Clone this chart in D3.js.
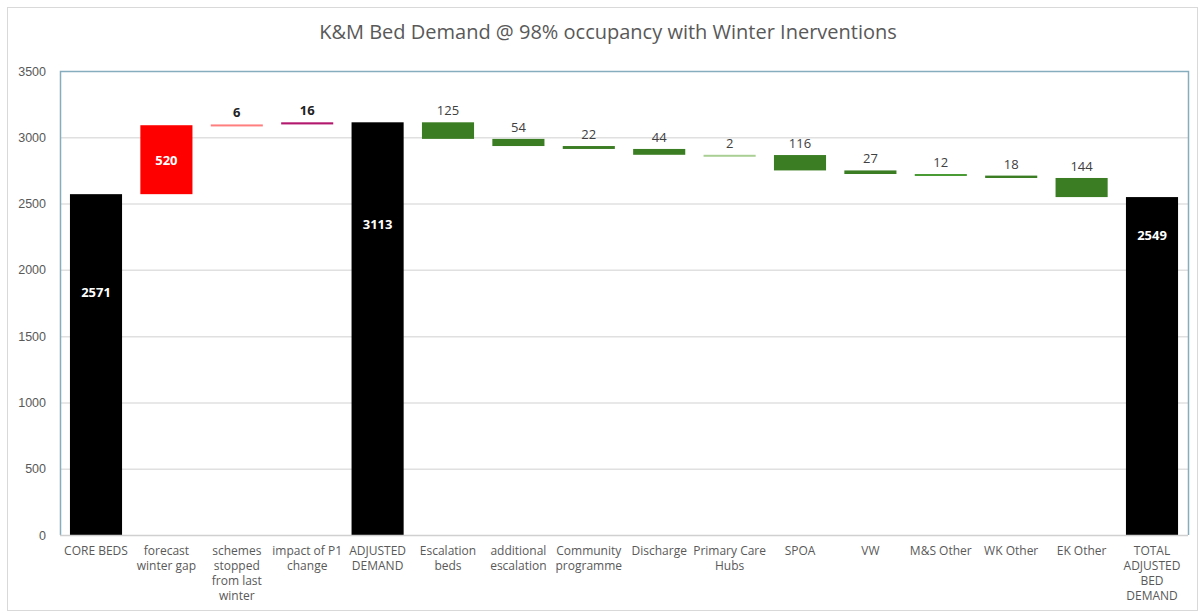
<!DOCTYPE html>
<html lang="en">
<head>
  <meta charset="UTF-8" />
  <title>K&amp;M Bed Demand</title>
  <script src="https://d3js.org/d3.v7.min.js"></script>
  <style>
    body {
      background-color: white;
      margin: 0;
      font-family: "Open Sans", sans-serif;
    }
    svg { display: block; }
    .tick text { fill: #595959; font-size: 12.5px; }
    .cat { fill: #595959; font-size: 12px; }
    .lbl { font-size: 13px; }
  </style>
</head>
<body>
  <svg></svg>

  <script>
    // categories (lines of each axis label)
    const categories = [
      ["CORE BEDS"], ["forecast", "winter gap"], ["schemes", "stopped", "from last", "winter"],
      ["impact of P1", "change"], ["ADJUSTED", "DEMAND"], ["Escalation", "beds"],
      ["additional", "escalation"], ["Community", "programme"], ["Discharge"],
      ["Primary Care", "Hubs"], ["SPOA"], ["VW"], ["M&S Other"], ["WK Other"],
      ["EK Other"], ["TOTAL", "ADJUSTED", "BED", "DEMAND"]
    ];
    // kind: total, up (increase), down (decrease)
    const kinds = ["total", "up", "up", "up", "total", "down", "down", "down", "down",
                   "down", "down", "down", "down", "down", "down", "total"];
    const values = [2571, 520, 6, 16, 3113, 125, 54, 22, 44, 2, 116, 27, 12, 18, 144, 2549];
    const yTicks = [0, 500, 1000, 1500, 2000, 2500, 3000, 3500];

    const colors = ["#000000", "#ff0000", "#ff7f7f", "#b3186f", "#000000", "#3b7d23",
                    "#3b7d23", "#3b7d23", "#3b7d23", "#a9cf94", "#3b7d23", "#3b7d23",
                    "#4a9a35", "#3b7d23", "#3b7d23", "#000000"];

    const width = 1203, height = 613;
    const svg = d3.select("svg").attr("width", width).attr("height", height);

    // outer frame
    svg.append("rect")
      .attr("x", 7.5).attr("y", 7.5)
      .attr("width", 1190).attr("height", 603)
      .attr("fill", "white").attr("stroke", "#d9d9d9");

    svg.append("text")
      .attr("x", 608).attr("y", 39)
      .attr("text-anchor", "middle")
      .attr("fill", "#595959")
      .style("font-size", "20px")
      .text("K&M Bed Demand @ 98% occupancy with Winter Inerventions");

    const x = d3.scaleBand()
      .domain(d3.range(categories.length))
      .range([60.8, 1187.2])
      .paddingInner(0.26).paddingOuter(0.13);

    const y = d3.scaleLinear().domain([0, 3500]).range([535, 71]);

    // compute waterfall segments
    let running = 0;
    const segs = values.map((v, i) => {
      let lo, hi;
      if (kinds[i] === "total") { lo = 0; hi = v; running = v; }
      else if (kinds[i] === "up") { lo = running; hi = running + v; running = hi; }
      else { hi = running; lo = running - v; running = lo; }
      return { i, v, lo, hi, kind: kinds[i] };
    });

    // gridlines
    svg.append("g")
      .selectAll("line")
      .data(yTicks.filter(t => t > 0 && t < 3500))
      .join("line")
      .attr("x1", 60).attr("x2", 1188)
      .attr("y1", d => y(d) + 0.5).attr("y2", d => y(d) + 0.5)
      .attr("stroke", "#e0e0e0").attr("stroke-width", 1.5);

    // y axis labels
    const yAxis = svg.append("g")
      .attr("transform", "translate(60,0)")
      .call(d3.axisLeft(y).tickValues(yTicks).tickFormat(d3.format("d")).tickSize(0).tickPadding(14));
    yAxis.select(".domain").remove();

    // bars
    svg.append("g")
      .selectAll("rect")
      .data(segs)
      .join("rect")
      .attr("x", d => x(d.i))
      .attr("width", x.bandwidth())
      .attr("y", d => y(d.hi))
      .attr("height", d => Math.max(2, y(d.lo) - y(d.hi)))
      .attr("fill", d => colors[d.i]);

    // plot border (left, top, right) and bottom axis
    svg.append("path")
      .attr("d", `M60.5,535 V71.5 H1188.5 V535`)
      .attr("fill", "none").attr("stroke", "#86adbd").attr("stroke-width", 1.5);
    svg.append("line")
      .attr("x1", 60).attr("x2", 1188).attr("y1", 535.5).attr("y2", 535.5)
      .attr("stroke", "#d0d0d0").attr("stroke-width", 1.5);

    // value labels
    const totalDrop = { 0: 98, 4: 102, 15: 38 };
    svg.append("g")
      .selectAll("text")
      .data(segs)
      .join("text")
      .attr("class", "lbl")
      .attr("x", d => x(d.i) + x.bandwidth() / 2)
      .attr("y", d => {
        if (d.kind === "total") return y(d.hi) + totalDrop[d.i] + 5;
        if (d.i === 1) return (y(d.hi) + y(d.lo)) / 2 + 5;
        return y(d.hi) - 7;
      })
      .attr("text-anchor", "middle")
      .attr("fill", d => (d.kind === "total" || d.i === 1) ? "#ffffff" : (d.kind === "up" ? "#222" : "#404040"))
      .style("font-weight", d => d.kind === "down" ? "normal" : "bold")
      .text(d => d.v);

    // category labels
    const cat = svg.append("g")
      .selectAll("text")
      .data(categories)
      .join("text")
      .attr("class", "cat")
      .attr("text-anchor", "middle")
      .attr("x", (d, i) => x(i) + x.bandwidth() / 2)
      .attr("y", 555);
    cat.selectAll("tspan")
      .data(d => d)
      .join("tspan")
      .attr("x", function () { return d3.select(this.parentNode).attr("x"); })
      .attr("dy", (d, j) => j === 0 ? 0 : 15)
      .text(d => d);
  </script>
</body>
</html>
